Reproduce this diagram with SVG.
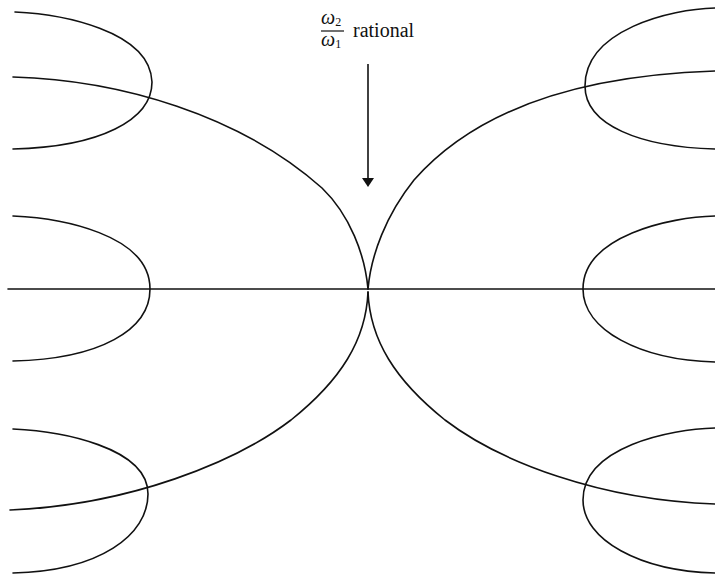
<svg xmlns="http://www.w3.org/2000/svg" width="715" height="579" viewBox="0 0 715 579">
<style>
.c{fill:none;stroke:#111;stroke-width:1.6;stroke-linecap:round;stroke-linejoin:round}
.t{font-family:"Liberation Serif","Times New Roman",serif;fill:#111}
</style>
<rect width="715" height="579" fill="#fff"/>
<g id="loops">
<path class="c" d="M15,12 C60,14 150,30 152,82 C152,120 100,147 13,149"/>
<path class="c" d="M13,216 C60,218 150,234 150,289 C150,330 100,359 13,361"/>
<path class="c" d="M13,429 C60,431 148,447 148,494 C148,535 100,571 13,573"/>
<path class="c" d="M715,8 C670,9 585,30 585,86 C585,125 640,147 715,149"/>
<path class="c" d="M715,216 C670,217 583,236 583,289 C583,330 640,360 715,362"/>
<path class="c" d="M715,428 C670,429 583,447 583,500 C583,540 640,571 715,573"/>
</g>
<g id="separatrices">
<path class="c" d="M8,289 L715,289"/>
<path class="c" d="M13,77 C120,80 240,115 322,188 C350,215 365,255 368,289"/>
<path class="c" d="M368,289 C371,255 386,215 414,180 C480,105 590,75 715,71"/>
<path class="c" d="M368,292 C370,340 395,380 445,420 C500,462 600,500 715,504"/>
<path class="c" d="M368,292 C366,340 341,380 291,420 C236,462 130,505 10,510"/>
</g>
<g id="label">
<text class="t" x="321" y="24" font-size="20" font-style="italic">ω<tspan font-size="12" font-style="normal" dy="2">2</tspan></text>
<line x1="321" y1="31" x2="344" y2="31" stroke="#111" stroke-width="1.2"/>
<text class="t" x="321" y="46" font-size="20" font-style="italic">ω<tspan font-size="12" font-style="normal" dy="2">1</tspan></text>
<text class="t" x="353" y="37" font-size="20">rational</text>
</g>
<g id="arrow">
<line x1="368" y1="64" x2="368" y2="179" stroke="#111" stroke-width="1.6"/>
<polygon points="362,178 374,178 368,187" fill="#111"/>
</g>
</svg>
